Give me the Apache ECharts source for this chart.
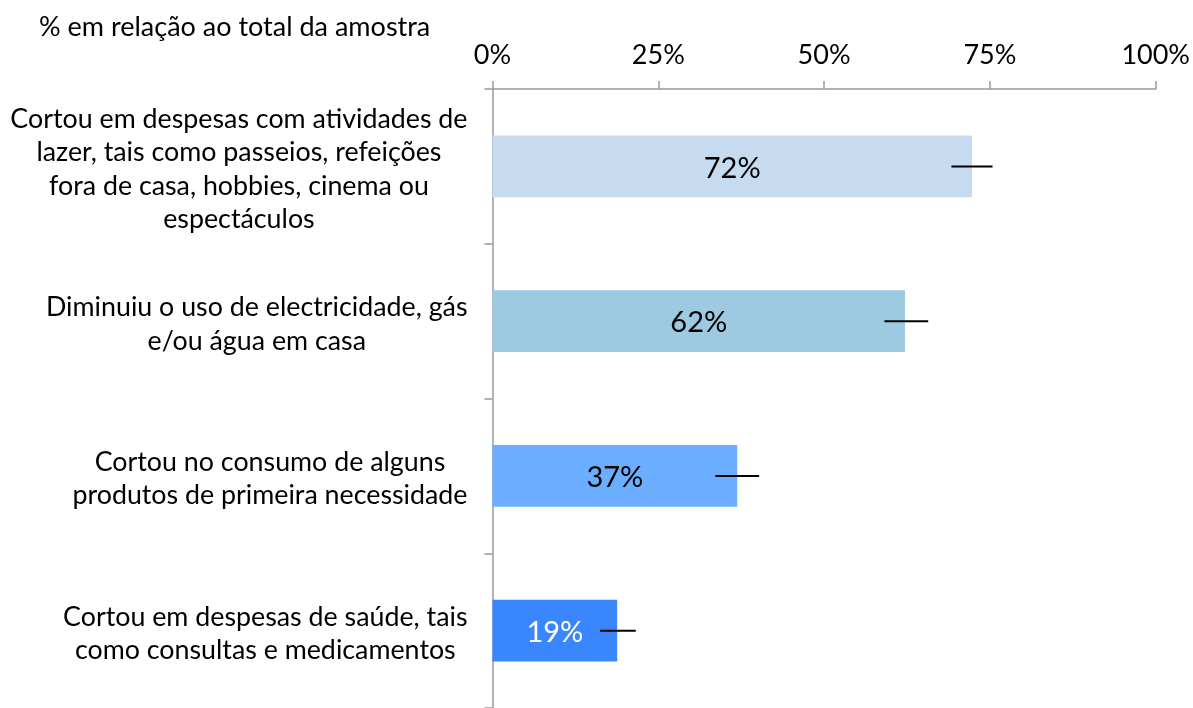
<!DOCTYPE html>
<html>
<head>
<meta charset="utf-8">
<script src="https://cdn.jsdelivr.net/npm/echarts@6/dist/echarts.min.js"></script>
<style>
  html, body { margin: 0; padding: 0; background: #fff; }
  #chart { width: 1193px; height: 708px; }
</style>
</head>
<body>
<div id="chart"></div>
<script>
const categories = [
  "Cortou em despesas com atividades de\nlazer, tais como passeios, refeições\nfora de casa, hobbies, cinema ou\nespectáculos",
  "Diminuiu o uso de electricidade, gás\ne/ou água em casa",
  "Cortou no consumo de alguns\nprodutos de primeira necessidade",
  "Cortou em despesas de saúde, tais\ncomo consultas e medicamentos"
];
const values = [72.3, 62.2, 36.9, 18.8];
const errLow = [69.2, 59.1, 33.6, 16.2];
const errHigh = [75.4, 65.7, 40.2, 21.6];
const barColors = ["#c6dbef", "#9ecae1", "#6baeff", "#3a86ff"];
const labelColors = ["#000", "#000", "#000", "#fff"];
const xTicks = [0, 25, 50, 75, 100];

const font = "Lato";
const chart = echarts.init(document.getElementById("chart"));

let option = {
  animation: false,
  title: {
    text: "% em relação ao total da amostra",
    left: 34,
    top: 9,
    textStyle: { fontFamily: font, fontSize: 27, fontWeight: "normal", color: "#000" }
  },
  grid: { left: 492.5, top: 89, right: 36, height: 624 },
  xAxis: {
    type: "value",
    position: "top",
    min: xTicks[0],
    max: xTicks[xTicks.length - 1],
    interval: 25,
    axisLine: { show: true, lineStyle: { color: "#999", width: 1.5 } },
    axisTick: { show: true, length: 8, lineStyle: { color: "#999", width: 1.5 } },
    splitLine: { show: false },
    axisLabel: {
      formatter: "{value}%",
      fontFamily: font, fontSize: 27, color: "#000", margin: 20
    }
  },
  yAxis: {
    type: "category",
    inverse: true,
    data: categories,
    axisLine: { show: true, lineStyle: { color: "#999", width: 1.5 } },
    axisTick: { show: true, length: 8, lineStyle: { color: "#999", width: 1.5 } },
    axisLabel: {
      align: "right",
      margin: 25,
      padding: [6, 0, 0, 0],
      formatter: function (v) {
        return v.split("\n").map(l => "{c|" + l + "}").join("\n");
      },
      rich: {
        c: { align: "center", fontFamily: font, fontSize: 26.8, lineHeight: 33.5, color: "#000" }
      }
    }
  },
  series: [
    {
      type: "bar",
      barWidth: "40%",
      data: values.map((v, i) => ({
        value: v,
        itemStyle: { color: barColors[i] },
        label: { color: labelColors[i] }
      })),
      label: {
        show: true,
        position: "inside",
        offset: [0, 2],
        formatter: p => Math.round(p.value) + "%",
        fontFamily: font,
        fontSize: 29
      }
    },
    {
      type: "custom",
      data: errLow.map((lo, i) => [lo, errHigh[i], i]),
      encode: { x: [0, 1], y: 2 },
      renderItem: function (params, api) {
        const a = api.coord([api.value(0), api.value(2)]);
        const b = api.coord([api.value(1), api.value(2)]);
        return {
          type: "line",
          shape: { x1: a[0], y1: a[1], x2: b[0], y2: b[1] },
          style: { stroke: "#000", lineWidth: 2 }
        };
      },
      z: 5
    }
  ]
};
chart.setOption(option);
</script>
</body>
</html>
